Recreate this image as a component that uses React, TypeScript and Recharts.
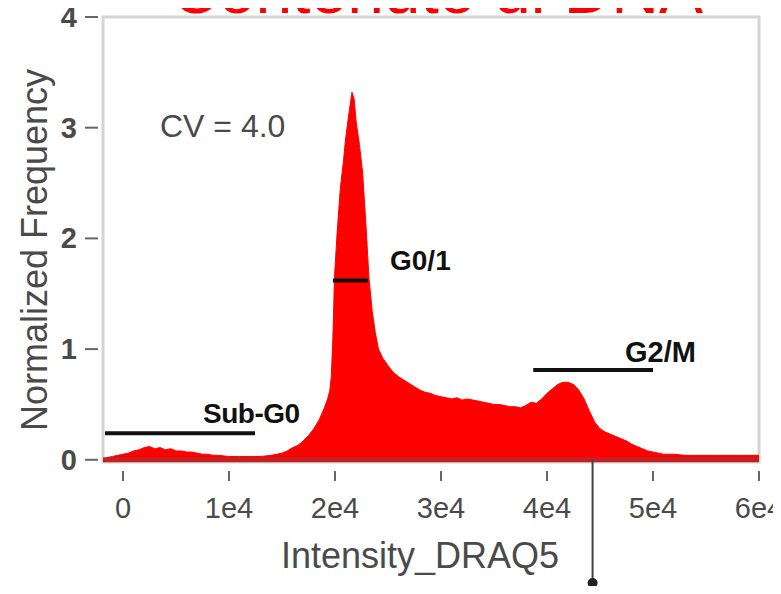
import React from 'react';
import {
  ComposedChart, Area, XAxis, YAxis, ReferenceLine, ReferenceArea,
} from 'recharts';

// histogram: DRAQ5 intensity vs normalized frequency
const intensity = [
  -1800, -1500, -1000, -500, 0, 500, 1000, 1500, 2000, 2500, 3000, 3500, 4000, 4500, 5000, 5500,
  6000, 6500, 7000, 7500, 8000, 8500, 9000, 10000, 11000, 12000, 13000, 14000, 14500, 15000, 15500,
  16000, 16500, 17000, 17500, 18000, 18500, 19000, 19300, 19500, 19650, 19800, 19950, 20200, 20500,
  20800, 21000, 21300, 21600, 21800, 22000, 22300, 22600, 22900, 23200, 23500, 23800, 24100, 24500,
  25000, 25500, 26000, 26500, 27000, 27500, 28000, 28500, 29000, 29500, 30000, 30500, 31000, 31500,
  32000, 32500, 33000, 33500, 34000, 34500, 35000, 35500, 36000, 36500, 37000, 37500, 38000, 38500,
  39000, 39500, 40000, 40500, 41000, 41500, 42000, 42500, 43000, 43500, 44000, 44500, 45000, 45500,
  46000, 46500, 47000, 47500, 48000, 48500, 49000, 49500, 50000, 50500, 51000, 52000, 53000, 54000,
  56000, 58000, 60000,
];
const frequency = [
  0.0, 0.02, 0.03, 0.04, 0.05, 0.06, 0.08, 0.09, 0.11, 0.12, 0.1, 0.11, 0.09, 0.1, 0.08, 0.08,
  0.07, 0.07, 0.06, 0.05, 0.05, 0.04, 0.04, 0.03, 0.03, 0.03, 0.03, 0.04, 0.05, 0.06, 0.08,
  0.11, 0.13, 0.17, 0.22, 0.28, 0.36, 0.47, 0.55, 0.62, 0.75, 1.1, 1.65, 2.05, 2.45,
  2.7, 2.9, 3.12, 3.32, 3.26, 3.05, 2.85, 2.6, 2.15, 1.65, 1.35, 1.15, 1.0, 0.92,
  0.85, 0.79, 0.75, 0.72, 0.69, 0.66, 0.63, 0.61, 0.6, 0.58, 0.57, 0.56, 0.55, 0.56,
  0.54, 0.55, 0.54, 0.53, 0.52, 0.51, 0.5, 0.5, 0.49, 0.48, 0.48, 0.47, 0.49, 0.52,
  0.51, 0.55, 0.6, 0.64, 0.68, 0.7, 0.7, 0.68, 0.63, 0.55, 0.44, 0.34, 0.28, 0.25,
  0.23, 0.21, 0.19, 0.17, 0.14, 0.12, 0.1, 0.08, 0.07, 0.06, 0.05, 0.05, 0.04, 0.04,
  0.04, 0.04, 0.04,
];

const xTicks = [0, 10000, 20000, 30000, 40000, 50000, 60000];
const xTickLabels = ['0', '1e4', '2e4', '3e4', '4e4', '5e4', '6e4'];
const yTicks = [0, 1, 2, 3, 4];

// gate bars
const gateNames = ['Sub-G0', 'G0/1', 'G2/M'];
const gateStart = [-1700, 19800, 38700];
const gateEnd = [12450, 23100, 50000];
const gateLevel = [0.24, 1.62, 0.81];

const markerX = 44300;

const data = intensity.map((x, i) => ({ intensity: x, freq: frequency[i] }));

const font = '"Liberation Sans", Arial, sans-serif';
const grey = '#4a4a4a';

const XTick = (props: any) => {
  const { x, y, payload } = props;
  const i = xTicks.indexOf(payload.value);
  return (
    <g>
      <line x1={x} x2={x} y1={y + 9} y2={y + 19} stroke="#666" strokeWidth={2} />
      <text x={x} y={y + 56} textAnchor="middle" fontSize={29} fill={grey} fontFamily={font}>
        {xTickLabels[i]}
      </text>
    </g>
  );
};

const YTick = (props: any) => {
  const { x, y, payload } = props;
  return (
    <g>
      <line x1={x - 18} x2={x - 5} y1={y} y2={y} stroke="#666" strokeWidth={2} />
      <text x={x - 26} y={y + 10} textAnchor="end" fontSize={29} fill={grey} fontFamily={font} fontWeight="bold">
        {payload.value}
      </text>
    </g>
  );
};

export default function App() {
  return (
    <div style={{ position: 'relative', width: 781, height: 594, margin: -8, overflow: 'hidden', background: '#fff' }}>
      <ComposedChart width={781} height={594} data={data} margin={{ top: 17, right: 22, bottom: 0, left: 0 }}>
        <XAxis
          type="number"
          dataKey="intensity"
          domain={[-1887, 60000]}
          ticks={xTicks}
          allowDataOverflow
          axisLine={false}
          tickLine={false}
          tickSize={0}
          tickMargin={0}
          height={132}
          tick={<XTick />}
        />
        <YAxis
          type="number"
          domain={[-0.02, 4]}
          ticks={yTicks}
          allowDataOverflow
          axisLine={false}
          tickLine={false}
          tickSize={0}
          tickMargin={0}
          width={103}
          tick={<YTick />}
        />
        <ReferenceArea x1={-1887} x2={60000} y1={-0.02} y2={4} fill="none" stroke="#d4d4d4" strokeWidth={3} />
        <Area
          type="linear"
          dataKey="freq"
          baseValue={-0.02}
          fill="#ff0000"
          fillOpacity={1}
          stroke="#ff0000"
          strokeWidth={1}
          isAnimationActive={false}
        />
        <ReferenceLine y={0} stroke="#c42222" strokeWidth={5} />
        {gateNames.map((g, i) => (
          <ReferenceLine
            key={g}
            segment={[{ x: gateStart[i], y: gateLevel[i] }, { x: gateEnd[i], y: gateLevel[i] }]}
            stroke="#111"
            strokeWidth={4}
          />
        ))}
        <ReferenceLine
          segment={[{ x: markerX, y: 0 }, { x: markerX, y: -1.12 }]}
          stroke="#444"
          strokeWidth={2}
          ifOverflow="visible"
        />
      </ComposedChart>
      <svg width={781} height={594} style={{ position: 'absolute', left: 0, top: 0, pointerEvents: 'none' }}>
        <circle cx={592.6} cy={583} r={5} fill="#222" />
        <text x={437} y={13} textAnchor="middle" fontSize={66} fill="#ff0000" fontFamily={font}>
          Contenuto di DNA
        </text>
        <text x={160} y={137} fontSize={32} fill={grey} fontFamily={font}>CV = 4.0</text>
        <text x={203} y={423} fontSize={28} fontWeight="bold" fill="#111" fontFamily={font} letterSpacing={-0.5}>{gateNames[0]}</text>
        <text x={390} y={270} fontSize={28} fontWeight="bold" fill="#111" fontFamily={font}>{gateNames[1]}</text>
        <text x={625} y={362} fontSize={29} fontWeight="bold" fill="#111" fontFamily={font}>{gateNames[2]}</text>
        <text x={420} y={568} textAnchor="middle" fontSize={36} fill={grey} fontFamily={font}>Intensity_DRAQ5</text>
        <text
          x={47}
          y={250}
          transform="rotate(-90 47 250)"
          textAnchor="middle"
          fontSize={36}
          fill={grey}
          fontFamily={font}
        >
          Normalized Frequency
        </text>
      </svg>
    </div>
  );
}
